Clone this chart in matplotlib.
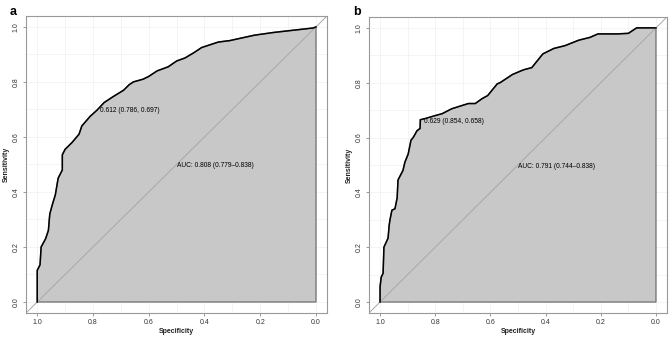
import matplotlib.pyplot as plt
import numpy as np

plt.rcParams['font.family'] = ['Liberation Sans', 'DejaVu Sans']

# panel a: ROC points (specificity, sensitivity)
spec_a = [1.0, 1.0, 0.99, 0.986, 0.97, 0.96, 0.955, 0.946, 0.935, 0.925, 0.91, 0.91,
          0.90, 0.875, 0.85, 0.84, 0.81, 0.786, 0.76, 0.73, 0.69, 0.67, 0.655, 0.62,
          0.60, 0.57, 0.53, 0.50, 0.47, 0.44, 0.41, 0.35, 0.31, 0.22, 0.15, 0.01, 0.0]
sens_a = [0.0, 0.115, 0.135, 0.20, 0.23, 0.26, 0.32, 0.353, 0.39, 0.45, 0.48, 0.535,
          0.555, 0.58, 0.61, 0.64, 0.675, 0.697, 0.725, 0.745, 0.77, 0.79, 0.80, 0.81,
          0.82, 0.84, 0.855, 0.876, 0.887, 0.905, 0.925, 0.945, 0.95, 0.97, 0.98, 0.996, 1.0]

# panel b
spec_b = [1.0, 1.0, 0.996, 0.989, 0.986, 0.971, 0.967, 0.964, 0.957, 0.946, 0.938, 0.935,
          0.917, 0.91, 0.898, 0.888, 0.88, 0.866, 0.855, 0.854, 0.837, 0.80, 0.775, 0.74,
          0.68, 0.655, 0.63, 0.61, 0.575, 0.565, 0.52, 0.48, 0.45, 0.43, 0.41, 0.37, 0.33,
          0.28, 0.24, 0.21, 0.14, 0.10, 0.07, 0.0]
sens_b = [0.0, 0.055, 0.09, 0.105, 0.20, 0.233, 0.28, 0.30, 0.335, 0.34, 0.38, 0.445,
          0.48, 0.51, 0.54, 0.59, 0.60, 0.625, 0.633, 0.665, 0.669, 0.68, 0.687, 0.705,
          0.724, 0.724, 0.742, 0.753, 0.796, 0.80, 0.83, 0.847, 0.855, 0.88, 0.905, 0.925,
          0.935, 0.955, 0.965, 0.978, 0.978, 0.98, 1.0, 1.0]

panels = [
    ("a", spec_a, sens_a, (0.786, 0.697), "0.612 (0.786, 0.697)", "AUC: 0.808 (0.779\u20130.838)"),
    ("b", spec_b, sens_b, (0.854, 0.658), "0.629 (0.854, 0.658)", "AUC: 0.791 (0.744\u20130.838)"),
]
boxes = [[0.039, 0.074, 0.450, 0.879], [0.5516, 0.074, 0.4454, 0.876]]

fig = plt.figure(figsize=(6.69, 3.38), dpi=100)
for (letter, sp, se, thr, thr_txt, auc_txt), box in zip(panels, boxes):
    ax = fig.add_axes(box)
    ax.set_xlim(1.04, -0.04)
    ax.set_ylim(-0.04, 1.04)
    for g in np.arange(0, 1.01, 0.1):
        ax.axvline(g, color='#f0f0f0', lw=0.5, zorder=0)
        ax.axhline(g, color='#f0f0f0', lw=0.5, zorder=0)
    # AUC polygon
    px = list(sp) + [0.0, 1.0]
    py = list(se) + [0.0, 0.0]
    ax.fill(px, py, facecolor='#c8c8c8', edgecolor='#7a7a7a', lw=1.0, zorder=1)
    ax.plot([1.04, -0.04], [-0.04, 1.04], color='#a8a8a8', lw=0.7, zorder=2)
    ax.plot(sp, se, color='black', lw=1.1, zorder=3)
    ax.text(thr[0] - 0.012, thr[1], thr_txt, fontsize=4.8, va='center', ha='left', zorder=4)
    ax.text(0.5, 0.495, auc_txt, fontsize=4.8, va='center', ha='left', zorder=4)
    ticks = [1.0, 0.8, 0.6, 0.4, 0.2, 0.0]
    ax.set_xticks(ticks)
    ax.set_xticklabels(["%.1f" % t for t in ticks])
    ax.set_yticks(ticks)
    ax.set_yticklabels(["%.1f" % t for t in ticks], rotation=90, va='center')
    ax.tick_params(labelsize=5, length=2.5, width=0.6, color='#888888', pad=2,
                   labelcolor='#333333')
    for s in ax.spines.values():
        s.set_color('#999999')
        s.set_linewidth(0.8)
    ax.set_xlabel("Specificity", fontsize=5, fontweight='bold', labelpad=1.5, color='#222222')
    ax.set_ylabel("Sensitivity", fontsize=5, fontweight='bold', labelpad=2, color='#222222')
    fig.text(box[0] - 0.024, 0.965, letter, fontsize=9, fontweight='bold', va='center')

fig.savefig("out.png", dpi=100)
